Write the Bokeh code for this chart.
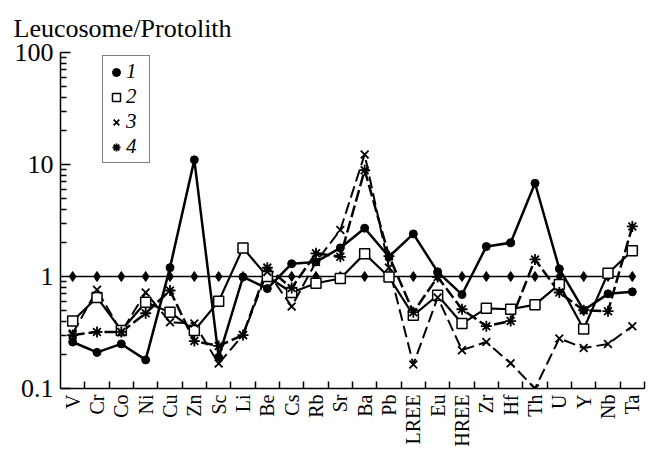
import math
from bokeh.plotting import figure
from bokeh.models import (FixedTicker, Range1d, Legend, LegendItem,
                          CustomJSTickFormatter, ColumnDataSource)
from bokeh.embed import file_html
from bokeh.resources import INLINE

# Elements along the x axis
elements = ["V", "Cr", "Co", "Ni", "Cu", "Zn", "Sc", "Li", "Be", "Cs", "Rb", "Sr",
            "Ba", "Pb", "LREE", "Eu", "HREE", "Zr", "Hf", "Th", "U", "Y", "Nb", "Ta"]

# Leucosome / protolith concentration ratios for the four samples
ratio_1 = [0.26, 0.21, 0.25, 0.18, 1.2, 11.0, 0.19, 0.99, 0.78, 1.3, 1.35, 1.8,
           2.7, 1.5, 2.4, 1.1, 0.69, 1.85, 2.0, 6.8, 1.17, 0.5, 0.7, 0.73]
ratio_2 = [0.40, 0.65, 0.33, 0.59, 0.48, 0.33, 0.60, 1.8, 1.0, 0.72, 0.87, 0.96,
           1.6, 0.99, 0.45, 0.68, 0.38, 0.52, 0.51, 0.56, 0.85, 0.34, 1.07, 1.7]
ratio_3 = [0.31, 0.76, 0.32, 0.72, 0.39, 0.38, 0.167, 0.30, 1.1, 0.54, 1.35, 2.6,
           12.3, 1.2, 0.164, 0.65, 0.22, 0.26, 0.168, 0.10, 0.28, 0.23, 0.25, 0.36]
ratio_4 = [0.30, 0.32, 0.32, 0.47, 0.75, 0.265, 0.24, 0.30, 1.2, 0.79, 1.61, 1.5,
           8.9, 1.52, 0.48, 0.99, 0.51, 0.36, 0.40, 1.42, 0.72, 0.50, 0.49, 2.8]
# Protolith level (ratio = 1)
protolith = [1, 1, 1, 1, 1, 1, 1, 1, 1, 1, 1, 1,
             1, 1, 1, 1, 1, 1, 1, 1, 1, 1, 1, 1]

series_names = ["1", "2", "3", "4"]
y_ticks = [0.1, 1, 10, 100]

FONT = "Liberation Serif"
pos = list(range(len(elements)))

p = figure(width=648, height=452, y_axis_type="log",
           x_range=Range1d(-0.5, len(elements) - 0.5), y_range=Range1d(0.1, 100),
           output_backend="svg", toolbar_location=None,
           min_border_left=60, min_border_right=4, min_border_top=52, min_border_bottom=64)
p.outline_line_color = None
p.xgrid.visible = False
p.ygrid.visible = False
p.background_fill_color = "white"
p.border_fill_color = "white"

# ratio name at the top left
p.title.text = "Leucosome/Protolith"
p.title.align = "left"
p.title.vertical_align = "top"
p.title.offset = -47
p.title.standoff = 16
p.title.text_font = FONT
p.title.text_font_style = "normal"
p.title.text_font_size = "26px"
p.title.text_color = "black"

# y axis: log decades, minor ticks pointing inward
minor_y = [m * 10.0 ** e for e in (-1, 0, 1) for m in range(2, 10)]
p.yaxis.ticker = FixedTicker(ticks=y_ticks, minor_ticks=minor_y)
p.yaxis.formatter = CustomJSTickFormatter(code="return tick.toString();")
p.yaxis.axis_line_width = 1.5
p.yaxis.major_tick_in = 10
p.yaxis.major_tick_out = 0
p.yaxis.minor_tick_in = 6
p.yaxis.minor_tick_out = 0
p.yaxis.major_tick_line_width = 1.5
p.yaxis.minor_tick_line_width = 1.5
p.yaxis.major_label_text_font = FONT
p.yaxis.major_label_text_font_size = "26px"
p.yaxis.major_label_text_color = "black"
p.yaxis.major_label_standoff = 7

# x axis: element names centred, tick marks between elements
p.xaxis.ticker = FixedTicker(ticks=pos, minor_ticks=[i + 0.5 for i in pos])
p.xaxis.formatter = CustomJSTickFormatter(args=dict(names=elements),
                                          code="return names[Math.round(tick)] || '';")
p.xaxis.axis_line_width = 1.5
p.xaxis.major_tick_in = 0
p.xaxis.major_tick_out = 0
p.xaxis.minor_tick_in = 7
p.xaxis.minor_tick_out = 0
p.xaxis.minor_tick_line_width = 1.5
p.xaxis.major_label_orientation = math.pi / 2
p.xaxis.major_label_text_font = FONT
p.xaxis.major_label_text_font_size = "20px"
p.xaxis.major_label_text_color = "black"
p.xaxis.major_label_standoff = 6

src = ColumnDataSource(dict(x=pos, r1=ratio_1, r2=ratio_2, r3=ratio_3, r4=ratio_4, pr=protolith))

# protolith reference line
p.line("x", "pr", source=src, line_color="black", line_width=1.5)
p.scatter("x", "pr", source=src, marker="diamond", size=10, fill_color="black", line_color="black")

# sample lines
p.line("x", "r3", source=src, line_color="black", line_width=2, line_dash="12 5")
p.line("x", "r4", source=src, line_color="black", line_width=2.5, line_dash="12 4")
p.line("x", "r2", source=src, line_color="black", line_width=2.2)
p.line("x", "r1", source=src, line_color="black", line_width=2.5)

m1 = p.scatter("x", "r1", source=src, marker="circle", size=8, fill_color="black", line_color="black")
m2 = p.scatter("x", "r2", source=src, marker="square", size=10, fill_color="white",
               line_color="black", line_width=1.5)
m3 = p.scatter("x", "r3", source=src, marker="x", size=11, line_color="black", line_width=1.8)
m4 = p.scatter("x", "r4", source=src, marker="asterisk", size=11, line_color="black", line_width=1.8)

legend = Legend(items=[LegendItem(label=n, renderers=[r]) for n, r in zip(series_names, [m1, m2, m3, m4])],
                location=(42, 225), orientation="vertical",
                label_text_font=FONT, label_text_font_style="italic", label_text_font_size="21px",
                label_text_color="black", glyph_width=20, glyph_height=20, label_height=20,
                label_standoff=0, spacing=0, padding=3, margin=0,
                border_line_color="black", border_line_width=1.5, background_fill_alpha=1.0)
p.add_layout(legend, "center")

open("out.html", "w").write(file_html(p, INLINE))
